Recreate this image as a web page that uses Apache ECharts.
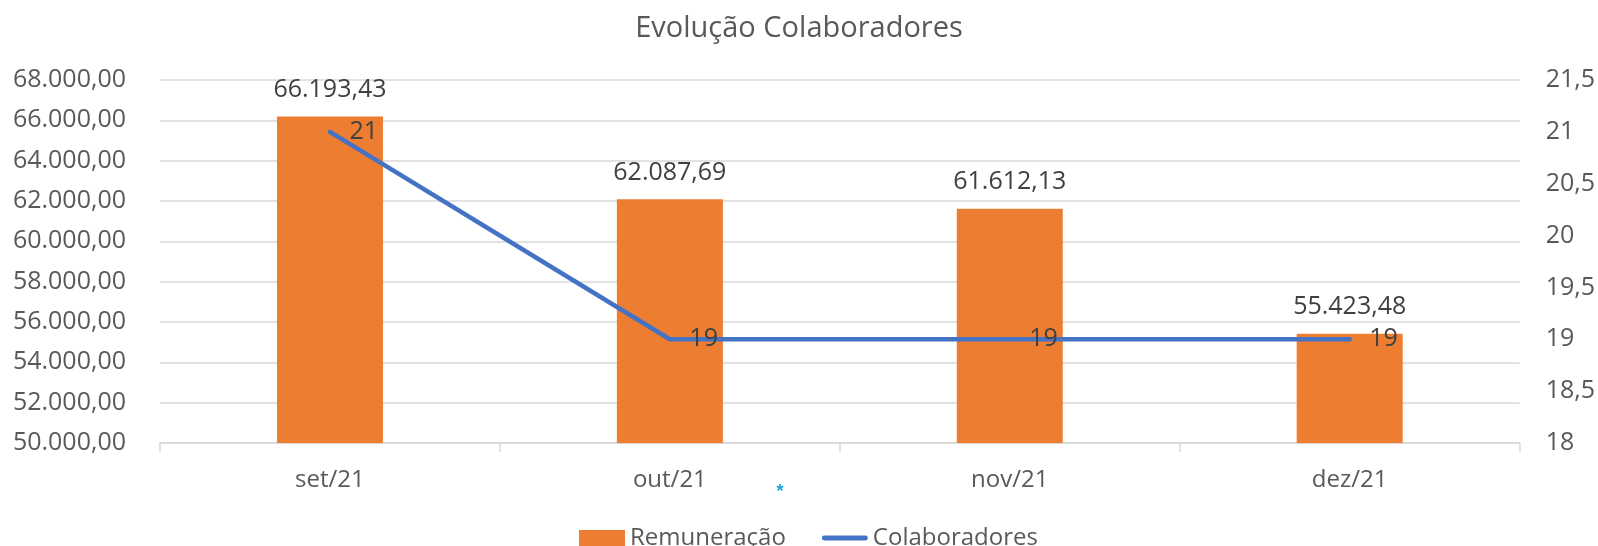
<!DOCTYPE html>
<html>
<head>
<meta charset="utf-8">
<script src="https://cdn.jsdelivr.net/npm/echarts@6/dist/echarts.min.js"></script>
<style>
  html, body { margin: 0; padding: 0; background: #ffffff; }
  #chart { width: 1598px; height: 546px; }
</style>
</head>
<body>
<div id="chart"></div>
<script>
const months = ['set/21', 'out/21', 'nov/21', 'dez/21']
const remuneracao = [66193.43, 62087.69, 61612.13, 55423.48]
const colaboradores = [21, 19, 19, 19]

// 1234.5 -> 1.234,50
function brMoney(v) {
  const parts = Number(v).toFixed(2).split('.')
  const int = parts[0].replace(/\B(?=(\d{3})+(?!\d))/g, '.')
  return int + ',' + parts[1]
}

const font = 'Open Sans'
const chart = echarts.init(document.getElementById('chart'))
chart.setOption({
  backgroundColor: '#ffffff',
  animation: false,
  textStyle: { fontFamily: font },
  title: {
    text: 'Evolução Colaboradores',
    left: 'center',
    top: 9,
    textStyle: { fontFamily: font, fontWeight: 'normal', fontSize: 29, color: '#595959' }
  },
  legend: {
    left: 574,
    top: 521,
    itemWidth: 46,
    itemHeight: 16,
    itemGap: 36,
    textStyle: { fontFamily: font, fontSize: 24, color: '#595959' },
    data: [
      { name: 'Remuneração', icon: 'rect' },
      { name: 'Colaboradores', icon: 'path://M2.5,0 H45.5 A2.5,2.5 0 0 1 45.5,5 H2.5 A2.5,2.5 0 0 1 2.5,0 Z' }
    ]
  },
  grid: { left: 160, right: 75, top: 80, bottom: 103, containLabel: false },
  xAxis: {
    type: 'category',
    data: months,
    axisLine: { lineStyle: { color: '#d9d9d9', width: 1.5 } },
    axisTick: { show: true, alignWithLabel: false, length: 9, lineStyle: { color: '#d9d9d9', width: 1.5 } },
    axisLabel: { fontFamily: font, fontSize: 24, color: '#595959', margin: 25 }
  },
  yAxis: [{
    type: 'value',
    min: 50000,
    max: 68000,
    interval: 2000,
    axisLine: { show: false },
    axisTick: { show: false },
    axisLabel: { fontFamily: font, fontSize: 25, color: '#595959', margin: 34, formatter: v => brMoney(v) },
    splitLine: { lineStyle: { color: '#d9d9d9', width: 1.5 } }
  }, {
    type: 'value',
    position: 'right',
    min: 18,
    max: 21.5,
    interval: 0.5,
    axisLine: { show: false },
    axisTick: { show: false },
    axisLabel: { fontFamily: font, fontSize: 25, color: '#595959', margin: 26, formatter: v => String(v).replace('.', ',') },
    splitLine: { show: false }
  }],
  series: [{
    name: 'Remuneração',
    type: 'bar',
    barWidth: 106,
    itemStyle: { color: '#ED7D31' },
    label: {
      show: true,
      position: 'top',
      distance: 14,
      fontFamily: font,
      fontSize: 25,
      color: '#404040',
      formatter: p => brMoney(p.value)
    },
    data: remuneracao
  }, {
    name: 'Colaboradores',
    type: 'line',
    yAxisIndex: 1,
    symbol: 'circle',
    symbolSize: 1,
    lineStyle: { color: '#4472C4', width: 4.5, cap: 'round' },
    itemStyle: { color: '#4472C4' },
    label: {
      show: true,
      position: 'right',
      distance: 19,
      fontFamily: font,
      fontSize: 25,
      color: '#404040'
    },
    data: colaboradores
  }],
  graphic: [{
    type: 'text',
    x: 780,
    y: 492,
    style: { text: '*', fontSize: 18, fontWeight: 'bold', fill: '#1AA7E0', align: 'center', verticalAlign: 'middle' }
  }]
})
</script>
</body>
</html>
